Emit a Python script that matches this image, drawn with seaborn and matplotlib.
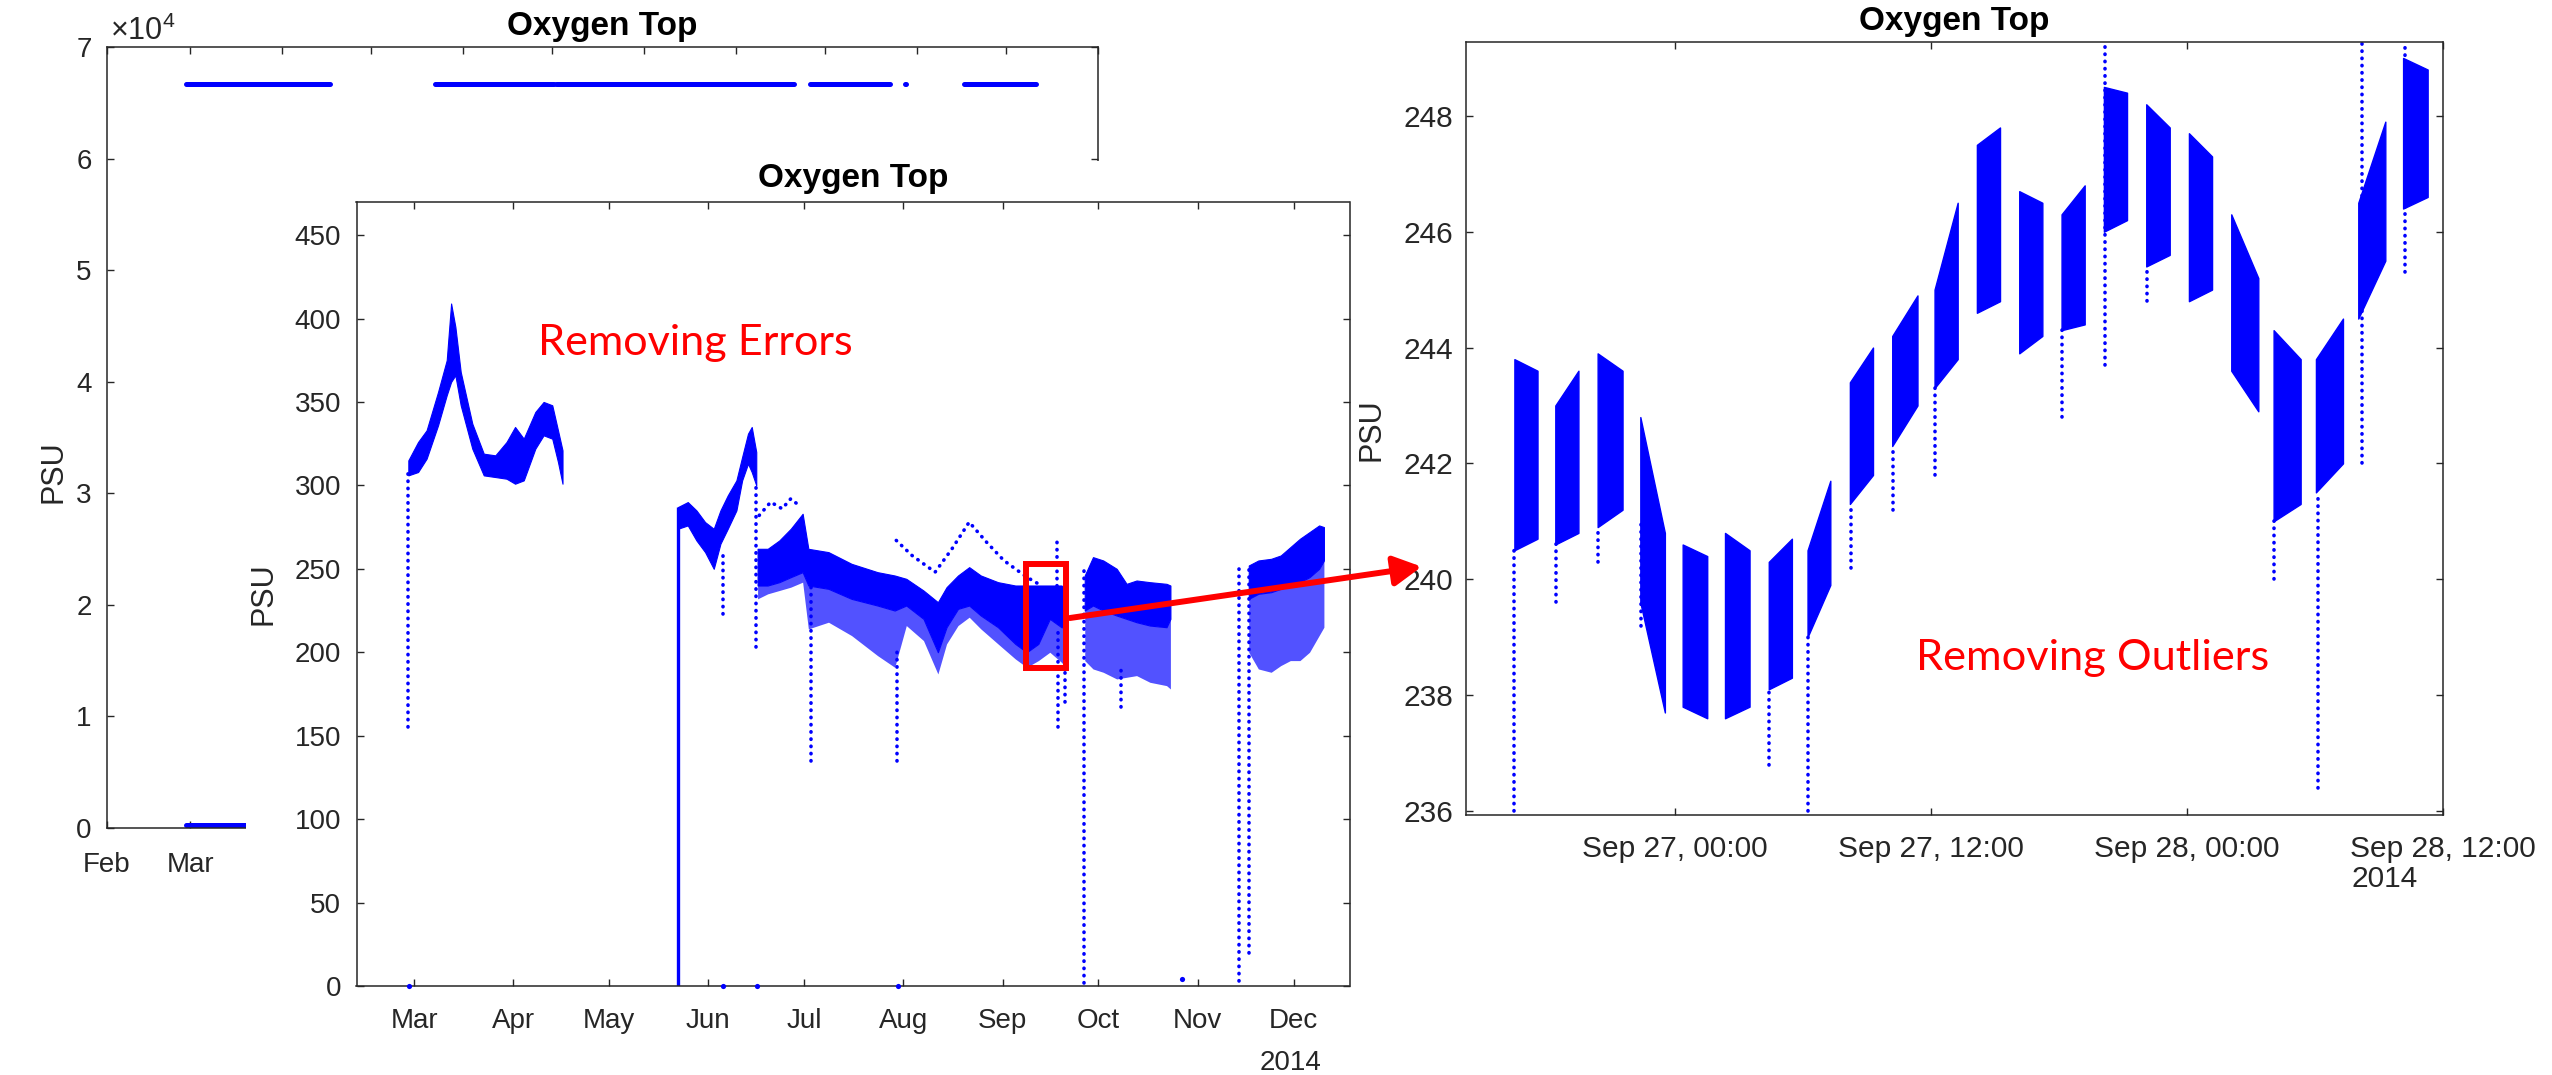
import matplotlib
matplotlib.use("Agg")
import numpy as np
import pandas as pd
import matplotlib.pyplot as plt
from matplotlib.patches import Rectangle, FancyArrowPatch
from matplotlib.collections import LineCollection
import matplotlib.dates as mdates
import seaborn as sns

# ======================= DATA =======================
title_text = "Oxygen Top"
ylabel_text = "PSU"

# ---- background panel: raw record (values in PSU; axis in units of 1e4) ----
bg_err_start = ["2014-02-27 12:00", "2014-05-22 10:00", "2014-07-02 06:00", "2014-09-26 00:00",
                "2014-10-28 00:00", "2014-11-14 00:00", "2014-11-17 00:00"]
bg_err_end = ["2014-04-17 00:00", "2014-07-01 18:00", "2014-09-20 12:00", "2014-10-23 00:00",
              "2014-10-28 06:00", "2014-11-14 06:00", "2014-12-11 00:00"]
bg_err_value = [66700, 66700, 66700, 66700, 66700, 66700, 66700]
bg_good_start = ["2014-02-27 12:00"]
bg_good_end = ["2014-12-11 00:00"]
bg_good_value = [250]
bg_month_ticks = ["2014-02-01", "2014-03-01", "2014-04-01", "2014-05-01", "2014-06-01", "2014-07-01",
                  "2014-08-01", "2014-09-01", "2014-10-01", "2014-11-01", "2014-12-01", "2015-01-01"]
bg_month_labels = ["Feb", "Mar", "Apr", "May", "Jun", "Jul", "Aug", "Sep", "Oct", "Nov", "Dec", "Jan"]
bg_yticks = [0, 10000, 20000, 30000, 40000, 50000, 60000, 70000]
bg_ytick_labels = ["0", "1", "2", "3", "4", "5", "6", "7"]

# ---- middle panel: after removing errors (dense bands of samples) ----
band_segment = (["A"] * 19 + ["B"] * 12 + ["C"] * 24 + ["D"] * 9 + ["E"] * 9)
band_time = [
    # A
    "2014-02-27 05:00", "2014-03-02 06:00", "2014-03-04 22:00", "2014-03-08 12:00", "2014-03-11 05:00",
    "2014-03-12 14:00", "2014-03-13 22:00", "2014-03-15 14:00", "2014-03-19 05:00", "2014-03-22 19:00",
    "2014-03-26 10:00", "2014-03-29 22:00", "2014-04-01 14:00", "2014-04-04 07:00", "2014-04-07 22:00",
    "2014-04-10 12:00", "2014-04-13 05:00", "2014-04-15 00:00", "2014-04-16 10:00",
    # B
    "2014-05-22 12:00", "2014-05-25 14:00", "2014-05-28 07:00", "2014-05-31 00:00", "2014-06-02 17:00",
    "2014-06-04 19:00", "2014-06-07 02:00", "2014-06-09 19:00", "2014-06-11 14:00", "2014-06-13 10:00",
    "2014-06-14 14:00", "2014-06-16 00:00",
    # C
    "2014-06-16 10:00", "2014-06-19 14:00", "2014-06-23 05:00", "2014-06-26 19:00", "2014-06-30 12:00",
    "2014-07-02 07:00", "2014-07-08 14:00", "2014-07-15 19:00", "2014-07-23 22:00", "2014-07-29 07:00",
    "2014-08-01 22:00", "2014-08-07 07:00", "2014-08-11 19:00", "2014-08-14 12:00", "2014-08-18 02:00",
    "2014-08-21 14:00", "2014-08-25 05:00", "2014-08-30 14:00", "2014-09-05 00:00", "2014-09-08 14:00",
    "2014-09-12 05:00", "2014-09-15 19:00", "2014-09-19 10:00", "2014-09-21 05:00",
    # D
    "2014-09-26 17:00", "2014-09-29 07:00", "2014-10-02 12:00", "2014-10-06 17:00", "2014-10-09 19:00",
    "2014-10-12 22:00", "2014-10-17 02:00", "2014-10-22 07:00", "2014-10-23 12:00",
    # E
    "2014-11-17 00:00", "2014-11-20 00:00", "2014-11-24 00:00", "2014-11-27 00:00", "2014-11-30 00:00",
    "2014-12-03 00:00", "2014-12-06 00:00", "2014-12-09 00:00", "2014-12-10 12:00",
]
band_high = [
    315, 326, 333, 356, 375, 409, 395, 368, 337, 319, 318, 326, 335, 328, 344, 350, 348, 333, 321,
    287, 290, 285, 278, 274, 285, 294, 303, 317, 331, 335, 320,
    262, 262, 267, 274, 283, 262, 260, 253, 248, 246, 244, 237, 230, 239, 246, 251, 246, 242, 240, 240,
    240, 240, 240, 238,
    246, 257, 255, 250, 241, 243, 242, 241, 240,
    252, 255, 256, 258, 263, 268, 272, 276, 275,
]
band_dense_low = [
    306, 308, 316, 336, 354, 362, 366, 348, 322, 306, 305, 304, 301, 303, 322, 330, 328, 314, 301,
    274, 276, 267, 260, 250, 265, 274, 285, 303, 313, 308, 300,
    240, 240, 242, 245, 248, 240, 238, 232, 228, 225, 228, 220, 200, 215, 226, 228, 222, 215, 205, 200,
    205, 220, 215, 215,
    225, 228, 225, 222, 220, 218, 216, 215, 220,
    232, 235, 236, 238, 240, 242, 245, 250, 255,
]
band_low = [
    306, 308, 316, 336, 354, 362, 366, 348, 322, 306, 305, 304, 301, 303, 322, 330, 328, 314, 301,
    274, 276, 267, 260, 250, 265, 274, 285, 303, 313, 308, 300,
    232, 235, 237, 239, 242, 214, 218, 210, 198, 191, 216, 207, 187, 205, 216, 221, 214, 205, 196, 191,
    195, 200, 194, 190,
    195, 190, 188, 184, 185, 186, 182, 180, 178,
    200, 190, 188, 192, 195, 195, 200, 210, 215,
]
# vertical runs of samples (spikes / drop-outs)
drop_time = ["2014-02-27 05:00", "2014-05-22 10:00", "2014-06-05 17:00", "2014-06-16 00:00",
             "2014-07-03 00:00", "2014-07-29 22:00", "2014-09-18 12:00", "2014-09-20 12:00",
             "2014-09-18 00:00", "2014-09-26 10:00", "2014-10-07 22:00", "2014-11-14 00:00",
             "2014-11-17 00:00"]
drop_low = [155, 0, 223, 203, 135, 135, 155, 170, 240, 2, 167, 3, 20]
drop_high = [310, 287, 262, 300, 240, 200, 215, 200, 266, 250, 190, 250, 250]
drop_style = ["dotted", "solid", "dotted", "dotted", "dotted", "dotted", "dotted", "dotted",
              "dotted", "dotted", "dotted", "dotted", "dotted"]
# isolated samples near zero
zero_time = ["2014-02-27 12:00", "2014-06-05 14:00", "2014-06-16 07:00", "2014-07-30 07:00", "2014-10-27 00:00"]
zero_value = [0, 0, 0, 0, 4]
# sparse upper traces
arc_segment = ["J", "J", "J", "J", "J", "S", "S", "S", "S", "S", "S", "S", "S", "S"]
arc_time = ["2014-06-16 22:00", "2014-06-20 12:00", "2014-06-24 02:00", "2014-06-26 19:00", "2014-06-30 00:00",
            "2014-07-29 19:00", "2014-08-03 17:00", "2014-08-10 22:00", "2014-08-16 05:00", "2014-08-21 14:00",
            "2014-08-27 00:00", "2014-09-01 10:00", "2014-09-08 14:00", "2014-09-12 05:00"]
arc_value = [282, 290, 286, 292, 287, 267, 258, 248, 262, 278, 266, 255, 245, 241]
mid_month_ticks = ["2014-03-01", "2014-04-01", "2014-05-01", "2014-06-01", "2014-07-01", "2014-08-01",
                   "2014-09-01", "2014-10-01", "2014-11-01", "2014-12-01"]
mid_month_labels = ["Mar", "Apr", "May", "Jun", "Jul", "Aug", "Sep", "Oct", "Nov", "Dec"]
mid_yticks = [0, 50, 100, 150, 200, 250, 300, 350, 400, 450]
mid_xlim = ["2014-02-11 00:00", "2014-12-18 12:00"]
mid_ylim = [0, 470]
zoom_box_time = ["2014-09-08 12:00", "2014-09-21 00:00"]
zoom_box_value = [190.3, 252.7]

# ---- right panel: after removing outliers (bursts of samples) ----
clus_start = ["2014-09-26 16:29", "2014-09-26 18:24", "2014-09-26 20:23", "2014-09-26 22:23",
              "2014-09-27 00:22", "2014-09-27 02:21", "2014-09-27 04:24", "2014-09-27 06:13",
              "2014-09-27 08:12", "2014-09-27 10:11", "2014-09-27 12:10", "2014-09-27 14:09",
              "2014-09-27 16:08", "2014-09-27 18:07", "2014-09-27 20:06", "2014-09-27 22:05",
              "2014-09-28 00:05", "2014-09-28 02:04", "2014-09-28 04:03", "2014-09-28 06:02",
              "2014-09-28 08:01", "2014-09-28 10:07"]
clus_end = ["2014-09-26 17:34", "2014-09-26 19:29", "2014-09-26 21:33", "2014-09-26 23:32",
            "2014-09-27 01:31", "2014-09-27 03:30", "2014-09-27 05:29", "2014-09-27 07:17",
            "2014-09-27 09:17", "2014-09-27 11:22", "2014-09-27 13:15", "2014-09-27 15:14",
            "2014-09-27 17:13", "2014-09-27 19:12", "2014-09-27 21:11", "2014-09-27 23:11",
            "2014-09-28 01:10", "2014-09-28 03:20", "2014-09-28 05:19", "2014-09-28 07:18",
            "2014-09-28 09:17", "2014-09-28 11:16"]
clus_lo_start = [240.5, 240.6, 240.9, 239.6, 237.8, 237.6, 238.1, 239.0, 241.3, 242.3, 243.3,
                 244.6, 243.9, 244.3, 246.0, 245.4, 244.8, 243.6, 241.0, 241.5, 244.5, 246.4]
clus_hi_start = [243.8, 243.0, 243.9, 242.8, 240.6, 240.8, 240.3, 240.5, 243.4, 244.2, 245.0,
                 247.5, 246.7, 246.3, 248.5, 248.2, 247.7, 246.3, 244.3, 243.8, 246.5, 249.0]
clus_lo_end = [240.7, 240.8, 241.2, 237.7, 237.6, 237.8, 238.3, 239.9, 241.8, 243.0, 243.8,
               244.8, 244.2, 244.4, 246.2, 245.6, 245.0, 242.9, 241.3, 242.0, 245.5, 246.6]
clus_hi_end = [243.6, 243.6, 243.6, 240.8, 240.4, 240.5, 240.7, 241.7, 244.0, 244.9, 246.5,
               247.8, 246.5, 246.8, 248.4, 247.8, 247.3, 245.2, 243.8, 244.5, 247.9, 248.8]
out_time = ["2014-09-26 16:29", "2014-09-26 18:26", "2014-09-26 20:25", "2014-09-26 22:25",
            "2014-09-27 04:26", "2014-09-27 06:15", "2014-09-27 08:14", "2014-09-27 10:13",
            "2014-09-27 12:12", "2014-09-27 18:09", "2014-09-27 20:08", "2014-09-27 22:07",
            "2014-09-28 04:05", "2014-09-28 06:09", "2014-09-28 08:11", "2014-09-28 10:11"]
out_low = [236.0, 239.6, 240.3, 239.2, 236.8, 236.0, 240.2, 241.2, 241.8, 242.8, 243.7, 244.8,
           240.0, 236.4, 242.0, 245.3]
out_high = [240.5, 240.6, 240.9, 241.0, 238.1, 239.0, 241.3, 242.3, 243.3, 244.3, 249.3, 245.4,
            241.0, 241.5, 249.3, 249.3]
zm_ticks = ["2014-09-27 00:00", "2014-09-27 12:00", "2014-09-28 00:00", "2014-09-28 12:00"]
zm_tick_labels = ["Sep 27, 00:00", "Sep 27, 12:00", "Sep 28, 00:00", "Sep 28, 12:00"]
zm_yticks = [236, 238, 240, 242, 244, 246, 248]
zm_xlim = ["2014-09-26 14:13", "2014-09-28 12:00"]
zm_ylim = [235.93, 249.27]

year_text = "2014"
note_errors = "Removing Errors"
note_outliers = "Removing Outliers"

# ======================= STYLE / LAYOUT =======================
sns.set_style("white")
plt.rcParams["font.family"] = ["Liberation Sans", "DejaVu Sans"]
plt.rcParams["mathtext.fontset"] = "custom"
plt.rcParams["mathtext.rm"] = "Liberation Sans"

BLUE = "#0000FF"
RED = "#FF0000"
AXC = "#262626"
W, H, DPI = 2552, 1075, 100
T = pd.to_datetime

fig = plt.figure(figsize=(W / DPI, H / DPI), dpi=DPI)
fig.patch.set_facecolor("white")


def box(left, top, right, bottom):
    return [left / W, 1 - bottom / H, (right - left) / W, (bottom - top) / H]


def style_axes(ax, fs, xpad, ypad):
    ax.set_facecolor("white")
    for sp in ax.spines.values():
        sp.set_visible(True)
        sp.set_color(AXC)
        sp.set_linewidth(1.1)
    ax.tick_params(axis="both", which="major", direction="in", length=5, width=1.0,
                   color=AXC, labelcolor=AXC, labelsize=fs, top=True, right=True,
                   bottom=True, left=True, labeltop=False, labelright=False)
    ax.tick_params(axis="x", pad=xpad)
    ax.tick_params(axis="y", pad=ypad)
    ax.grid(False)
    ax.set_xlabel("")
    ax.set_ylabel("")


def dotted_vlines(ax, times, lows, highs, lw=2.6):
    segs = [[(mdates.date2num(T(t)), lo), (mdates.date2num(T(t)), hi)]
            for t, lo, hi in zip(times, lows, highs)]
    lc = LineCollection(segs, colors=BLUE, linewidths=lw, linestyles=[(0, (0.1, 1.9))])
    lc.set_capstyle("round")
    ax.add_collection(lc)


# ---------------- background panel ----------------
ax_bg = fig.add_axes(box(107, 47, 1098, 828))
ax_bg.set_zorder(0)
hl = ax_bg.hlines(bg_err_value, [T(s) for s in bg_err_start], [T(e) for e in bg_err_end],
                  colors=BLUE, linewidth=3.6)
hl.set_capstyle("round")
hl2 = ax_bg.hlines(bg_good_value, [T(s) for s in bg_good_start], [T(e) for e in bg_good_end],
                   colors=BLUE, linewidth=3.6)
hl2.set_capstyle("round")
ax_bg.set_xlim(T("2014-02-01"), T("2015-01-01"))
ax_bg.set_ylim(0, 70000)
ax_bg.set_xticks([T(m) for m in bg_month_ticks])
ax_bg.set_xticklabels(bg_month_labels)
ax_bg.set_yticks(bg_yticks)
ax_bg.set_yticklabels(bg_ytick_labels)
style_axes(ax_bg, 20, 17, 11)
ax_bg.set_title(title_text, fontsize=24, fontweight="bold", pad=8.6, color="black")
fig.text(110 / W, 1 - 40 / H, r"$\times\mathregular{10^{4}}$", fontsize=22, color=AXC,
         ha="left", va="baseline")
fig.text(54 / W, 1 - 472 / H, ylabel_text, rotation=90, fontsize=22, color=AXC,
         ha="center", va="center")

# white sheet of the pasted middle panel
fig.add_artist(Rectangle((246 / W, 0), (1360 - 246) / W, (H - 161) / H, transform=fig.transFigure,
                         facecolor="white", edgecolor="none", zorder=1))

# ---------------- middle panel ----------------
ax_in = fig.add_axes(box(356.5, 201.7, 1349.5, 986))
ax_in.set_zorder(2)
bands = pd.DataFrame({"seg": band_segment, "time": T(band_time), "high": band_high,
                      "dense_low": band_dense_low, "low": band_low})
for _, g in bands.groupby("seg"):
    ax_in.fill_between(g["time"], g["low"], g["dense_low"], color=BLUE, alpha=0.68, linewidth=0)
    ax_in.fill_between(g["time"], g["dense_low"], g["high"], color=BLUE, linewidth=0.8,
                       edgecolor=BLUE)
sel_solid = [i for i, s in enumerate(drop_style) if s == "solid"]
sel_dot = [i for i, s in enumerate(drop_style) if s == "dotted"]
ax_in.vlines([T(drop_time[i]) for i in sel_solid], [drop_low[i] for i in sel_solid],
             [drop_high[i] for i in sel_solid], colors=BLUE, linewidth=2.4)
dotted_vlines(ax_in, [drop_time[i] for i in sel_dot], [drop_low[i] for i in sel_dot],
              [drop_high[i] for i in sel_dot])
arcs = pd.DataFrame({"seg": arc_segment, "time": T(arc_time), "value": arc_value})
for _, g in arcs.groupby("seg"):
    sns.lineplot(data=g, x="time", y="value", ax=ax_in, color=BLUE, estimator=None, sort=False,
                 linewidth=2.6, linestyle=(0, (0.1, 1.9)), dash_capstyle="round", legend=False)
zeros = pd.DataFrame({"time": T(zero_time), "value": zero_value})
sns.scatterplot(data=zeros, x="time", y="value", ax=ax_in, color=BLUE, s=14, linewidth=0,
                legend=False, clip_on=False, zorder=3)
ax_in.set_xlim(T(mid_xlim[0]), T(mid_xlim[1]))
ax_in.set_ylim(*mid_ylim)
ax_in.set_xticks([T(m) for m in mid_month_ticks])
ax_in.set_xticklabels(mid_month_labels)
ax_in.set_yticks(mid_yticks)
ax_in.set_yticklabels([str(v) for v in mid_yticks])
style_axes(ax_in, 20, 16, 11)
ax_in.set_title(title_text, fontsize=24, fontweight="bold", pad=10.8, color="black")
x0 = mdates.date2num(T(zoom_box_time[0]))
x1 = mdates.date2num(T(zoom_box_time[1]))
ax_in.add_patch(Rectangle((x0, zoom_box_value[0]), x1 - x0, zoom_box_value[1] - zoom_box_value[0],
                          fill=False, edgecolor=RED, linewidth=4.3, zorder=6, clip_on=False))
fig.text(1291 / W, 1 - 1070 / H, year_text, fontsize=20, color=AXC, ha="center", va="baseline")
fig.text(263 / W, 1 - 593.6 / H, ylabel_text, rotation=90, fontsize=22, color=AXC,
         ha="center", va="center", zorder=3)

# ---------------- right panel ----------------
ax_zm = fig.add_axes(box(1466, 42.3, 2443.3, 815))
ax_zm.set_zorder(2)
for s, e, l0, h0, l1, h1 in zip(clus_start, clus_end, clus_lo_start, clus_hi_start,
                                clus_lo_end, clus_hi_end):
    ax_zm.fill_between([T(s), T(e)], [l0, l1], [h0, h1], color=BLUE, linewidth=1.0, edgecolor=BLUE)
dotted_vlines(ax_zm, out_time, out_low, out_high)
ax_zm.set_xlim(T(zm_xlim[0]), T(zm_xlim[1]))
ax_zm.set_ylim(*zm_ylim)
ax_zm.set_xticks([T(m) for m in zm_ticks])
ax_zm.set_xticklabels(zm_tick_labels)
ax_zm.set_yticks(zm_yticks)
ax_zm.set_yticklabels([str(v) for v in zm_yticks])
style_axes(ax_zm, 21.5, 14.4, 9)
ax_zm.set_title(title_text, fontsize=24, fontweight="bold", pad=8.6, color="black")
fig.text(2351.7 / W, 1 - 887 / H, year_text, fontsize=21.5, color=AXC, ha="left", va="baseline")
fig.text(1371 / W, 1 - 430 / H, ylabel_text, rotation=90, fontsize=22, color=AXC,
         ha="center", va="center")

# ---------------- annotations ----------------
renderer = fig.canvas.get_renderer()


def fitted_text(xc, ybase, s, target_w):
    txt = fig.text(xc / W, 1 - ybase / H, s, fontsize=30, color=RED, ha="center", va="baseline",
                   family=["Lato", "DejaVu Sans"], zorder=8)
    w = txt.get_window_extent(renderer).width
    txt.set_fontsize(30 * target_w / w)
    return txt


fitted_text(695.5, 355, note_errors, 315)
fitted_text(2093, 670, note_outliers, 353)

arrow = FancyArrowPatch((1070 / W, 1 - 618 / H), (1421.7 / W, 1 - 566.7 / H),
                        transform=fig.transFigure, arrowstyle="-|>,head_length=1.4,head_width=0.75",
                        mutation_scale=12, linewidth=4.3, color=RED, shrinkA=0, shrinkB=0, zorder=10)
fig.add_artist(arrow)

fig.savefig("out.png", dpi=DPI, facecolor="white")
